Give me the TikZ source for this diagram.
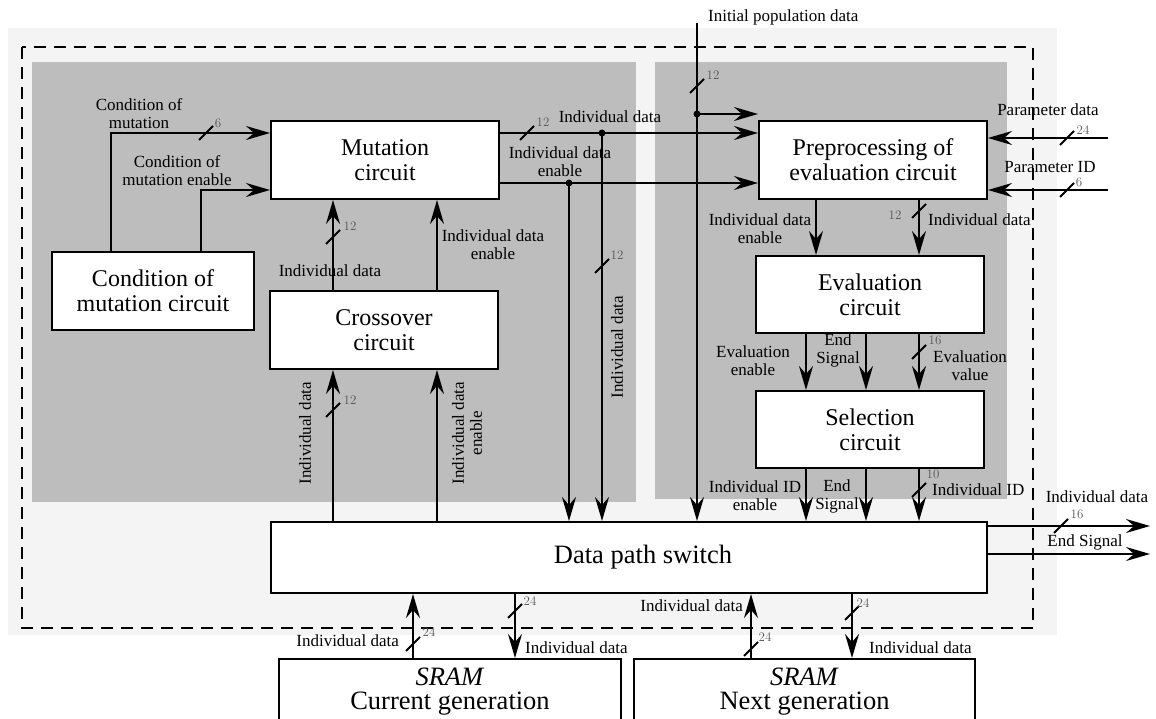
\documentclass[tikz,border=0pt]{standalone}
\usepackage{fontspec}
\setmainfont{Liberation Serif}
\newfontfamily\numfont{Latin Modern Roman}
\usetikzlibrary{arrows.meta,calc}
\definecolor{lightbg}{HTML}{F4F4F4}
\definecolor{panel}{HTML}{BDBDBD}
\definecolor{numgray}{HTML}{555555}
\tikzset{
 box/.style={draw, fill=white, line width=2pt, inner sep=0pt, align=center, font=\fontsize{24}{25}\selectfont},
 bigbox/.style={box, font=\fontsize{26.5}{24}\selectfont},
 lbl/.style={inner sep=0pt, align=center, font=\fontsize{17}{18}\selectfont},
 num/.style={inner sep=0pt, text=numgray, font=\numfont\fontsize{13}{13}\selectfont},
 arr/.style={line width=2pt, -{Stealth[length=24pt,width=14pt,inset=8pt]}},
 wire/.style={line width=2pt},
}
\newcommand\busmark[5]{\draw[wire] (#1-7,#2+7) -- (#1+7,#2-7); \node[num] at (#4,#5) {#3};}
\begin{document}
\begin{tikzpicture}[x=1pt,y=-1pt]
\useasboundingbox (0,0) rectangle (1156,719);
\clip (0,0) rectangle (1156,719);
% backgrounds
\fill[lightbg] (8,28) rectangle (1057,635);
\fill[panel] (32,62) rectangle (636,502);
\fill[panel] (655,62) rectangle (1007,499);
\draw[line width=2pt, dash pattern=on 12pt off 8pt] (22,47) rectangle (1033,628);

% boxes
\node[box, minimum width=228pt, minimum height=78pt] (mut) at (385,160) {Mutation\\circuit};
\node[box, minimum width=202pt, minimum height=78pt] (cond) at (153,291) {Condition of\\mutation circuit};
\node[box, minimum width=228pt, minimum height=78pt] (cross) at (384,330) {Crossover\\circuit};
\node[box, minimum width=228pt, minimum height=78pt] (pre) at (873,160) {Preprocessing of\\evaluation circuit};
\node[box, minimum width=228pt, minimum height=77pt] (eval) at (870,294.5) {Evaluation\\circuit};
\node[box, minimum width=228pt, minimum height=77pt] (sel) at (870,429.5) {Selection\\circuit};
\node[bigbox, minimum width=716pt, minimum height=71pt] (dps) at (629,557.5) {\hspace*{28pt}Data path switch};
\node[bigbox, minimum width=342pt, minimum height=66pt] (cur) at (450,692) {\textit{SRAM}\\Current generation};
\node[bigbox, minimum width=341pt, minimum height=66pt] (nxt) at (804.5,692) {\textit{SRAM}\\Next generation};

% labels
\node[lbl] at (139,114) {Condition of\\mutation};
\node[lbl] at (177,171) {Condition of\\mutation enable};
\node[lbl] at (330,271) {Individual data};
\node[lbl] at (493,245) {Individual data\\enable};
\node[lbl] at (610,117) {Individual data};
\node[lbl] at (560,162) {Individual data\\enable};
\node[lbl, rotate=90] at (617,347) {Individual data};
\node[lbl, anchor=west] at (708,17) {Initial population data};
\node[lbl] at (1048,110) {Parameter data};
\node[lbl] at (1050,167) {Parameter ID};
\node[lbl] at (760,229) {Individual data\\enable};
\node[lbl, anchor=west] at (928,220) {Individual data};
\node[lbl] at (753,361) {Evaluation\\enable};
\node[lbl] at (838,350) {End\\Signal};
\node[lbl] at (970,366) {Evaluation\\value};
\node[lbl] at (755,496) {Individual ID\\enable};
\node[lbl] at (837,496) {End\\Signal};
\node[lbl, anchor=west] at (932,490) {Individual ID};
\node[lbl, rotate=90] at (305,433) {Individual data};
\node[lbl, rotate=90] at (467,433) {Individual data\\enable};
\node[lbl] at (1097,497) {Individual data};
\node[lbl] at (1085,542) {End Signal};
\node[lbl, anchor=east] at (399,641) {Individual data};
\node[lbl, anchor=west] at (525,648) {Individual data};
\node[lbl, anchor=east] at (743,606) {Individual data};
\node[lbl, anchor=west] at (869,648) {Individual data};

% coordinates
\coordinate (j1) at (602,133);
\coordinate (j2) at (569,183);
\coordinate (ip) at (697,23);
\coordinate (j3) at (697,114);
\coordinate (pd) at (1108,138);
\coordinate (pid) at (1108,190);
\coordinate (o1) at (1150,526);
\coordinate (o2) at (1150,554);

% connectors
\draw[arr] (cond.north -| 111,0) |- (mut.west |- 0,133);
\draw[arr] (cond.north -| 201,0) |- (mut.west |- 0,190);
\draw[arr] (cross.north -| 333,0) -- (mut.south -| 333,0);
\draw[arr] (cross.north -| 437,0) -- (mut.south -| 437,0);
\draw[arr] (mut.east |- 0,133) -- (pre.west |- 0,133);
\draw[arr] (mut.east |- 0,183) -- (pre.west |- 0,183);
\draw[arr] (j1) -- (dps.north -| j1);
\draw[arr] (j2) -- (dps.north -| j2);
\draw[arr] (ip) -- (dps.north -| ip);
\draw[arr] (j3) -- (pre.west |- j3);
\fill (j1) circle (3.5);
\fill (j2) circle (3.5);
\fill (j3) circle (3.5);
\draw[arr] (pd) -- (pre.east |- pd);
\draw[arr] (pid) -- (pre.east |- pid);
\draw[arr] (pre.south -| 816,0) -- (eval.north -| 816,0);
\draw[arr] (pre.south -| 919,0) -- (eval.north -| 919,0);
\draw[arr] (eval.south -| 806,0) -- (sel.north -| 806,0);
\draw[arr] (eval.south -| 866,0) -- (sel.north -| 866,0);
\draw[arr] (eval.south -| 919,0) -- (sel.north -| 919,0);
\draw[arr] (sel.south -| 806,0) -- (dps.north -| 806,0);
\draw[arr] (sel.south -| 866,0) -- (dps.north -| 866,0);
\draw[arr] (sel.south -| 919,0) -- (dps.north -| 919,0);
\draw[arr] (dps.north -| 333,0) -- (cross.south -| 333,0);
\draw[arr] (dps.north -| 437,0) -- (cross.south -| 437,0);
\draw[arr] (dps.east |- o1) -- (o1);
\draw[arr] (dps.east |- o2) -- (o2);
\draw[arr] (cur.north -| 413,0) -- (dps.south -| 413,0);
\draw[arr] (dps.south -| 515,0) -- (cur.north -| 515,0);
\draw[arr] (nxt.north -| 751,0) -- (dps.south -| 751,0);
\draw[arr] (dps.south -| 852,0) -- (nxt.north -| 852,0);

% bus width marks
\busmark{206}{133}{6}{218}{123}
\busmark{333}{237}{12}{350}{226}
\busmark{527}{133}{12}{543}{122}
\busmark{602}{266}{12}{617}{255}
\busmark{697}{86}{12}{713}{75}
\busmark{1067}{138}{24}{1083}{130}
\busmark{1067}{190}{6}{1079}{182}
\busmark{919}{211}{12}{895}{215}
\busmark{919}{352}{16}{935}{340}
\busmark{919}{490}{10}{933}{474}
\busmark{333}{410}{12}{350}{400}
\busmark{1061}{526}{16}{1077}{514}
\busmark{413}{644}{24}{429}{632}
\busmark{515}{611}{24}{530}{601}
\busmark{751}{649}{24}{765}{637}
\busmark{852}{613}{24}{863}{603}
\end{tikzpicture}
\end{document}
